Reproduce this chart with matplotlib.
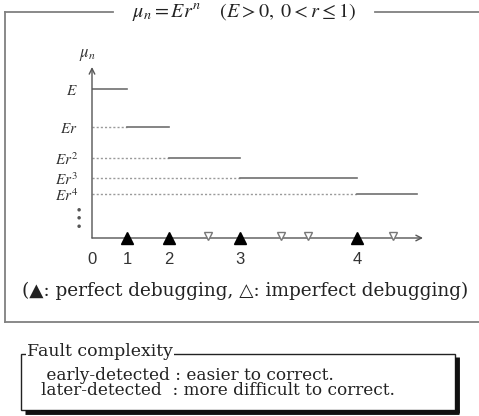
import matplotlib.pyplot as plt
from matplotlib.patches import Rectangle
from matplotlib.transforms import offset_copy

plt.rcParams['mathtext.fontset'] = 'stix'
plt.rcParams['font.family'] = ['DejaVu Serif']

# fault detection times (perfect / imperfect debugging)
perfect_t = [3.5, 7.7, 14.8, 26.5]
imperfect_t = [11.6, 18.9, 21.6, 30.1]
# debugging difficulty mu_n, E normalised to 1
levels = [1.0, 0.745, 0.537, 0.403, 0.295]
level_labels = [r'$E$', r'$Er$', r'$Er^2$', r'$Er^3$', r'$Er^4$']
tick_labels = ['0', '1', '2', '3', '4']
t_last = 32.5

W, H = 479, 416
fig = plt.figure(figsize=(W / 100, H / 100), dpi=100)

# full-figure layer in pixel units for frames and captions
deco = fig.add_axes([0, 0, 1, 1])
deco.set_xlim(0, W)
deco.set_ylim(H, 0)
deco.axis('off')

ink = '#222222'
frame_c = '#808080'
deco.plot([5, 113], [12, 12], color=frame_c, lw=1.3)
deco.plot([375, W], [12, 12], color=frame_c, lw=1.3)
deco.plot([5, 5], [12, 322], color=frame_c, lw=1.3)
deco.plot([5, W], [322, 322], color=frame_c, lw=1.3)
deco.text(244, 12, r'$\mu_n = Er^n\ \ \ \ (E > 0,\ 0 < r \leq 1)$', fontsize=14.5,
          ha='center', va='center', color=ink)

deco.text(245, 291, '(\u25b2: perfect debugging, \u25b3: imperfect debugging)',
          fontsize=13.3, ha='center', va='center', color=ink)

# fault complexity box with drop shadow
deco.add_patch(Rectangle((21, 354), 434, 56, fill=False, ec=ink, lw=1))
deco.plot([457.5, 457.5], [357, 413], color='#111', lw=3.5, solid_capstyle='butt')
deco.plot([25, 459], [412, 412], color='#111', lw=3.5, solid_capstyle='butt')
deco.text(27, 351, 'Fault complexity', fontsize=12.5, ha='left', va='center',
          color=ink, bbox=dict(fc='white', ec='none', pad=1))
deco.text(41, 383, ' early-detected : easier to correct.\n'
          'later-detected  : more difficult to correct.',
          fontsize=12.2, ha='left', va='center', linespacing=0.8, color=ink)

# the mu_n diagram
x0, x1, y0, y1 = 92, 423, 238, 67
ax = fig.add_axes([x0 / W, 1 - y0 / H, (x1 - x0) / W, (y0 - y1) / H])
ax.patch.set_visible(False)
ax.set_xlim(0, 33.1)
ax.set_ylim(0, 1.148)
for s in ax.spines.values():
    s.set_visible(False)

axis_c = '#555555'
ax.annotate('', xy=(1, 0), xytext=(0, 0), xycoords='axes fraction',
            arrowprops=dict(arrowstyle='->', color=axis_c, lw=1, shrinkA=0, shrinkB=0))
ax.annotate('', xy=(0, 1), xytext=(0, 0), xycoords='axes fraction',
            arrowprops=dict(arrowstyle='->', color=axis_c, lw=1, shrinkA=0, shrinkB=0))

starts = [0] + perfect_t
ends = perfect_t + [t_last]
for mu, a, b in zip(levels, starts, ends):
    if a > 0:
        ax.plot([0, a], [mu, mu], color='#9a9a9a', lw=1, ls=(0, (1.5, 1.5)))
    ax.plot([a, b], [mu, mu], color='#707070', lw=1.2)

ax.plot(perfect_t, [0] * len(perfect_t), ls='none', marker='^', ms=9,
        color='black', clip_on=False, zorder=5)
up = offset_copy(ax.transData, fig=fig, x=0, y=2.5, units='dots')
ax.plot(imperfect_t, [0] * len(imperfect_t), ls='none', marker='v', ms=6,
        mfc='white', mec='#777', mew=1, transform=up, clip_on=False, zorder=5)

ax.set_xticks([0] + perfect_t, tick_labels, fontsize=12, family='Liberation Sans',
              color='#333')
ax.tick_params(axis='x', length=0, pad=10)
ax.set_yticks(levels, level_labels, fontsize=11, color='#333')
ax.tick_params(axis='y', length=0, pad=10)
ax.text(-0.048, 0.117, r'$\vdots$', transform=ax.transAxes, fontsize=20,
        ha='center', va='center', color='#555')
ax.text(-0.015, 1.076, r'$\mu_n$', transform=ax.transAxes, fontsize=12,
        ha='center', va='center', color='#333')

fig.savefig('out.png', dpi=100)
